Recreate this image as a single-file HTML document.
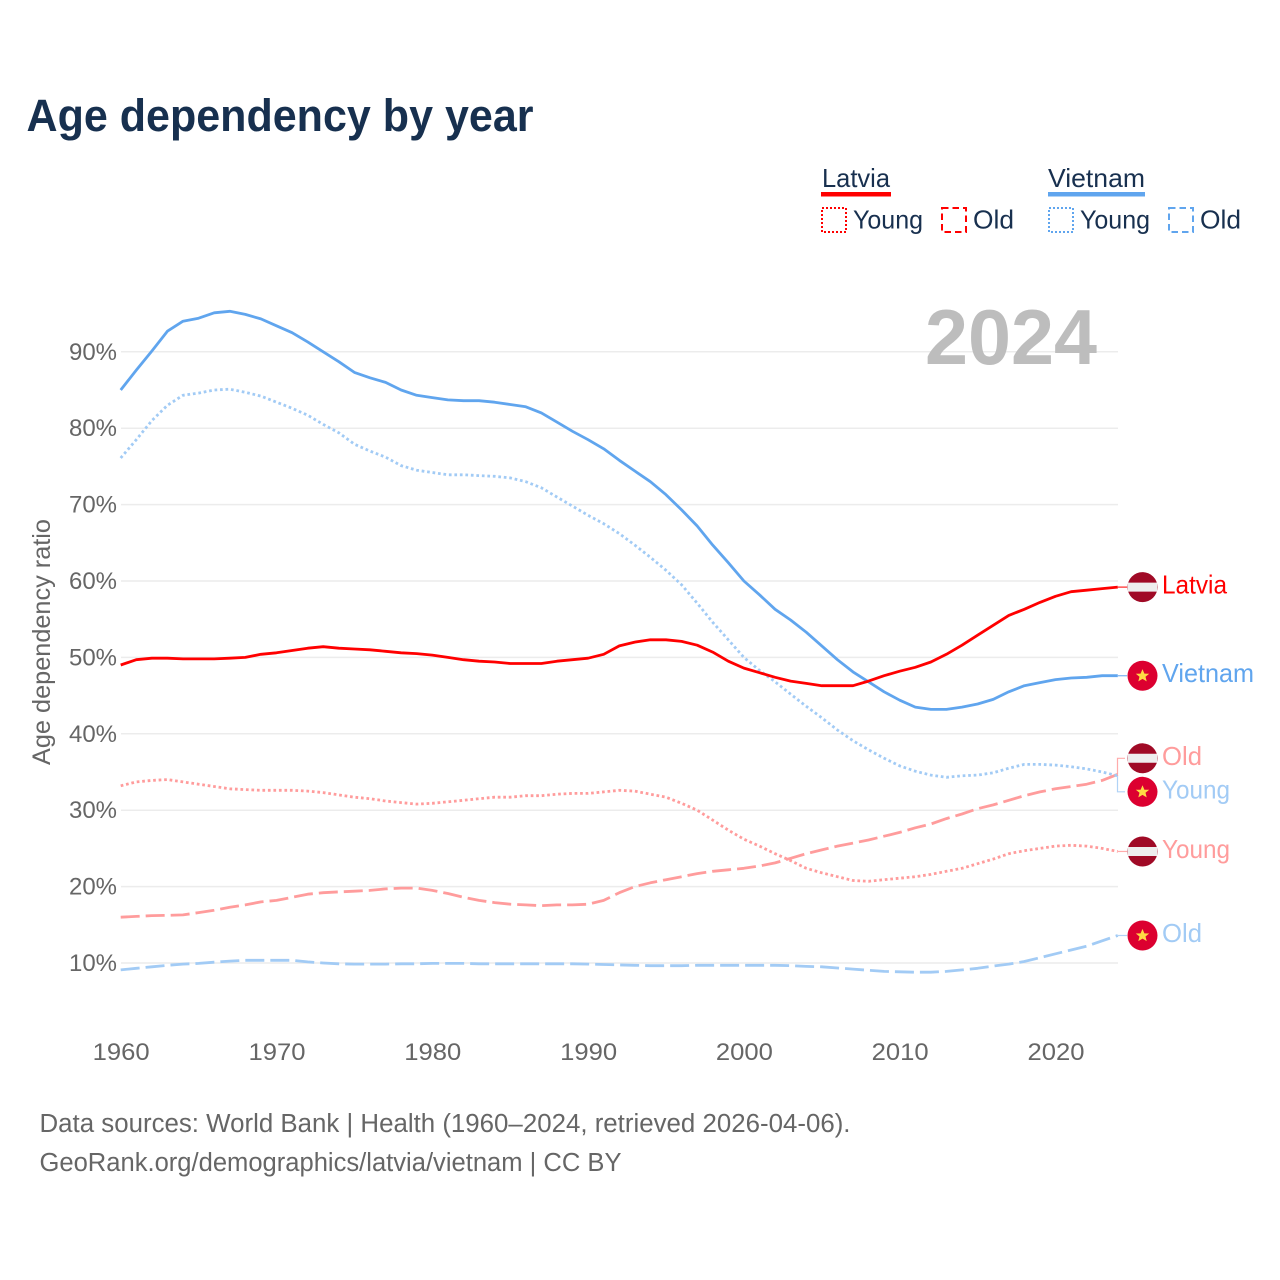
<!DOCTYPE html>
<html lang="en">
<head>
<meta charset="utf-8">
<title>Age dependency by year</title>
<style>
html,body{margin:0;padding:0;background:#fff;width:1280px;height:1280px;overflow:hidden}
svg{display:block}
text{font-family:"Liberation Sans",sans-serif}
.tick{font-size:24.5px;fill:#666}
.foot{font-size:25.5px;fill:#666}
.leg{font-size:26px;fill:#18304f}
.end{font-size:26px}
</style>
</head>
<body>
<svg id="chart" width="1280" height="1280" viewBox="0 0 1280 1280" xmlns="http://www.w3.org/2000/svg">
<text x="26.5" y="131" font-size="45" font-weight="700" fill="#17304f" textLength="507" lengthAdjust="spacingAndGlyphs">Age dependency by year</text>

<g>
<g>
<text class="leg" x="822" y="187" textLength="68" lengthAdjust="spacingAndGlyphs">Latvia</text>
<rect x="821" y="192" width="70" height="4.5" fill="#ff0000"/>
</g>
<g>
<rect x="822" y="208" width="24" height="24" fill="none" stroke="#ff0000" stroke-width="2" stroke-dasharray="2 2"/>
<text class="leg" x="853" y="228.5" textLength="70" lengthAdjust="spacingAndGlyphs">Young</text>
</g>
<g>
<rect x="942" y="208" width="24" height="24" fill="none" stroke="#ff0000" stroke-width="2" stroke-dasharray="6.5 4"/>
<text class="leg" x="973" y="228.5" textLength="41" lengthAdjust="spacingAndGlyphs">Old</text>
</g>
<g>
<text class="leg" x="1048" y="187" textLength="97" lengthAdjust="spacingAndGlyphs">Vietnam</text>
<rect x="1048" y="192" width="97" height="4.5" fill="#60a5ee"/>
</g>
<g>
<rect x="1049" y="208" width="24" height="24" fill="none" stroke="#60a5ee" stroke-width="2" stroke-dasharray="2 2"/>
<text class="leg" x="1080" y="228.5" textLength="70" lengthAdjust="spacingAndGlyphs">Young</text>
</g>
<g>
<rect x="1169" y="208" width="24" height="24" fill="none" stroke="#60a5ee" stroke-width="2" stroke-dasharray="6.5 4"/>
<text class="leg" x="1200" y="228.5" textLength="41" lengthAdjust="spacingAndGlyphs">Old</text>
</g>
</g>

<g id="grid"></g>
<g id="yticks"></g>
<g id="xticks"></g>
<text x="925" y="364" font-size="78" font-weight="700" fill="#bdbdbd" textLength="172" lengthAdjust="spacingAndGlyphs">2024</text>
<text transform="translate(50,765) rotate(-90)" font-size="25" fill="#666" textLength="246" lengthAdjust="spacingAndGlyphs">Age dependency ratio</text>
<g id="series"></g>
<g id="labels"></g>

<text class="foot" x="39.5" y="1132" textLength="811" lengthAdjust="spacingAndGlyphs">Data sources: World Bank | Health (1960–2024, retrieved 2026-04-06).</text>
<text class="foot" x="39.5" y="1171" textLength="582" lengthAdjust="spacingAndGlyphs">GeoRank.org/demographics/latvia/vietnam | CC BY</text>
</svg>

<script>
const startYear = 1960;
const xTickLabels = [1960, 1970, 1980, 1990, 2000, 2010, 2020];
const yTickLabels = [10, 20, 30, 40, 50, 60, 70, 80, 90];

const latviaTotal = [
49.0,49.7,49.9,49.9,49.8,49.8,49.8,49.9,50.0,50.4,
50.6,50.9,51.2,51.4,51.2,51.1,51.0,50.8,50.6,50.5,
50.3,50.0,49.7,49.5,49.4,49.2,49.2,49.2,49.5,49.7,
49.9,50.4,51.5,52.0,52.3,52.3,52.1,51.6,50.7,49.5,
48.6,48.0,47.4,46.9,46.6,46.3,46.3,46.3,46.9,47.6,
48.2,48.7,49.4,50.4,51.6,52.9,54.2,55.5,56.3,57.2,
58.0,58.6,58.8,59.0,59.2];
const vietnamTotal = [
85.0,87.6,90.1,92.7,94.0,94.4,95.1,95.3,94.9,94.3,
93.4,92.5,91.3,90.0,88.7,87.3,86.6,86.0,85.0,84.3,
84.0,83.7,83.6,83.6,83.4,83.1,82.8,82.0,80.8,79.6,
78.5,77.3,75.8,74.4,73.0,71.3,69.3,67.2,64.7,62.4,
60.0,58.2,56.3,54.9,53.3,51.5,49.7,48.1,46.8,45.5,
44.4,43.5,43.2,43.2,43.5,43.9,44.5,45.5,46.3,46.7,
47.1,47.3,47.4,47.6,47.6];
const latviaYoung = [
33.2,33.7,33.9,34.0,33.7,33.4,33.1,32.8,32.7,32.6,
32.6,32.6,32.5,32.3,32.0,31.7,31.5,31.2,31.0,30.8,
30.9,31.1,31.3,31.5,31.7,31.7,31.9,31.9,32.1,32.2,
32.2,32.4,32.6,32.5,32.1,31.7,30.9,30.0,28.7,27.4,
26.2,25.3,24.3,23.4,22.4,21.8,21.3,20.8,20.7,20.9,
21.1,21.3,21.6,22.0,22.4,23.0,23.6,24.3,24.7,25.0,
25.3,25.4,25.3,25.0,24.6];
const latviaOld = [
16.0,16.1,16.2,16.25,16.3,16.6,16.9,17.3,17.6,18.0,
18.2,18.6,19.0,19.2,19.3,19.4,19.5,19.7,19.8,19.8,
19.5,19.1,18.6,18.2,17.9,17.7,17.6,17.5,17.6,17.6,
17.7,18.2,19.2,20.0,20.5,20.9,21.3,21.7,22.0,22.2,
22.4,22.7,23.1,23.7,24.3,24.8,25.3,25.7,26.1,26.6,
27.1,27.7,28.2,28.9,29.5,30.2,30.7,31.3,31.9,32.4,
32.8,33.1,33.4,33.9,34.7];
const vietnamYoung = [
76.1,78.5,81.0,83.0,84.3,84.6,85.0,85.1,84.7,84.2,
83.4,82.6,81.7,80.5,79.4,77.9,77.0,76.2,75.1,74.5,
74.2,73.9,73.9,73.8,73.7,73.5,73.0,72.2,71.0,69.8,
68.6,67.5,66.2,64.7,63.1,61.4,59.5,57.1,54.6,52.3,
50.0,48.3,46.8,45.2,43.6,42.1,40.5,39.1,37.9,36.8,
35.8,35.1,34.6,34.3,34.5,34.6,34.9,35.5,36.0,36.0,
35.9,35.7,35.4,35.0,34.5];
const vietnamOld = [
9.1,9.3,9.5,9.7,9.85,9.95,10.1,10.25,10.35,10.35,
10.35,10.35,10.15,10.0,9.9,9.85,9.85,9.85,9.9,9.9,
9.95,9.95,9.95,9.9,9.9,9.9,9.9,9.9,9.9,9.9,
9.85,9.8,9.75,9.7,9.65,9.65,9.65,9.7,9.7,9.7,
9.7,9.7,9.7,9.65,9.55,9.5,9.35,9.2,9.05,8.9,
8.85,8.8,8.8,8.9,9.1,9.3,9.6,9.85,10.2,10.7,
11.2,11.7,12.2,12.9,13.6];

const NS = 'http://www.w3.org/2000/svg';
function xScale(year) { return 120.7 + (year - 1960) * 15.58; }
function yScale(v) { return 963 - (v - 10) * 7.64; }
function make(tag, attrs, parent, content) {
  const el = document.createElementNS(NS, tag);
  for (const k in attrs) el.setAttribute(k, attrs[k]);
  if (content !== undefined) el.textContent = content;
  parent.appendChild(el);
  return el;
}

const grid = document.getElementById('grid');
const yticks = document.getElementById('yticks');
yTickLabels.forEach(function (t) {
  const line = make('line', {x1: 121, x2: 1118, y1: yScale(t), y2: yScale(t), stroke: '#ececec', 'stroke-width': 1.5}, grid);
  
  
  const label = make('text', {class: 'tick', x: 117, y: yScale(t) + 8, 'text-anchor': 'end', textLength: 48, lengthAdjust: 'spacingAndGlyphs'}, yticks, t + '%');
  
  
});

const xticks = document.getElementById('xticks');
xTickLabels.forEach(function (t) {
  const label = make('text', {class: 'tick', x: xScale(t) - 28, y: 1060, textLength: 57, lengthAdjust: 'spacingAndGlyphs'}, xticks, String(t));
  
  
});

const seriesGroup = document.getElementById('series');
function drawLine(values, name, color, dash, width) {
  const d = values.map(function (v, i) {
    return (i ? 'L' : 'M') + xScale(startYear + i).toFixed(1) + ' ' + yScale(v).toFixed(1);
  }).join(' ');
  const attrs = {d: d, fill: 'none', stroke: color, 'stroke-width': width, 'stroke-linejoin': 'round'};
  if (dash) attrs['stroke-dasharray'] = dash;
  const path = make('path', attrs, seriesGroup);
  
  
}
const RED = '#ff0000', BLUE = '#60a5ee', LRED = '#ff9c9c', LBLUE = '#a2cbf5';
drawLine(latviaOld, 'line-latvia-old', LRED, '19 6', 2.8);
drawLine(latviaYoung, 'line-latvia-young', LRED, '2.7 2.8', 2.8);
drawLine(vietnamOld, 'line-vietnam-old', LBLUE, '19 6', 2.8);
drawLine(vietnamYoung, 'line-vietnam-young', LBLUE, '2.7 2.8', 2.8);
drawLine(vietnamTotal, 'line-vietnam-total', BLUE, null, 2.8);
drawLine(latviaTotal, 'line-latvia-total', RED, null, 2.8);

/* End labels: start from each series' last value, then push apart to avoid overlap */
const endEntries = [
  {text: 'Latvia', country: 'latvia', color: RED, values: latviaTotal},
  {text: 'Vietnam', country: 'vietnam', color: BLUE, values: vietnamTotal},
  {text: 'Old', country: 'latvia', color: LRED, values: latviaOld},
  {text: 'Young', country: 'vietnam', color: LBLUE, values: vietnamYoung},
  {text: 'Young', country: 'latvia', color: LRED, values: latviaYoung},
  {text: 'Old', country: 'vietnam', color: LBLUE, values: vietnamOld}
];
endEntries.forEach(function (e) {
  e.lineY = yScale(e.values[e.values.length - 1]);
  e.y = e.lineY;
});
const sorted = endEntries.slice().sort(function (a, b) { return a.y - b.y; });
for (let i = 1; i < sorted.length; i++) {
  const gap = sorted[i].y - sorted[i - 1].y;
  if (gap < 33.5) {
    const push = (33.5 - gap) / 2;
    sorted[i - 1].y -= push;
    sorted[i].y += push;
  }
}
const widths = {Latvia: 65, Vietnam: 92, Old: 40, Young: 68};
const labelsGroup = document.getElementById('labels');
endEntries.forEach(function (e) {
  const slug = e.country + '-' + e.text.toLowerCase();
  const g = make('g', {}, labelsGroup);
  
  

  const connector = make('path', {
    d: Math.abs(e.y - e.lineY) < 1
      ? 'M1118 ' + e.lineY + ' L1127 ' + e.y
      : 'M1117.5 ' + e.lineY + ' V' + e.y + ' H1125',
    fill: 'none', stroke: e.color, 'stroke-width': 1.2, opacity: 0.85
  }, g);
  
  

  const flag = make('g', {transform: 'translate(1142.5,' + e.y + ')'}, g);
  
  
  if (e.country === 'latvia') {
    make('circle', {r: 15, fill: '#a00a26'}, flag);
    make('path', {d: 'M-14.6 -4.5 H14.6 V4.5 H-14.6 Z', fill: '#eeeeee'}, flag);
  } else {
    make('circle', {r: 15, fill: '#dc0030'}, flag);
    make('path', {d: 'M0 -6.6 L1.9 -2.1 L6.7 -2 L3 1 L4.2 5.6 L0 3.1 L-4.2 5.6 L-3 1 L-6.7 -2 L-1.9 -2.1 Z', fill: '#ffda44'}, flag);
  }

  const label = make('text', {class: 'end', x: 1162, y: e.y + 6.5, fill: e.color, textLength: widths[e.text], lengthAdjust: 'spacingAndGlyphs'}, g, e.text);
  
  
});
</script>
</body>
</html>
